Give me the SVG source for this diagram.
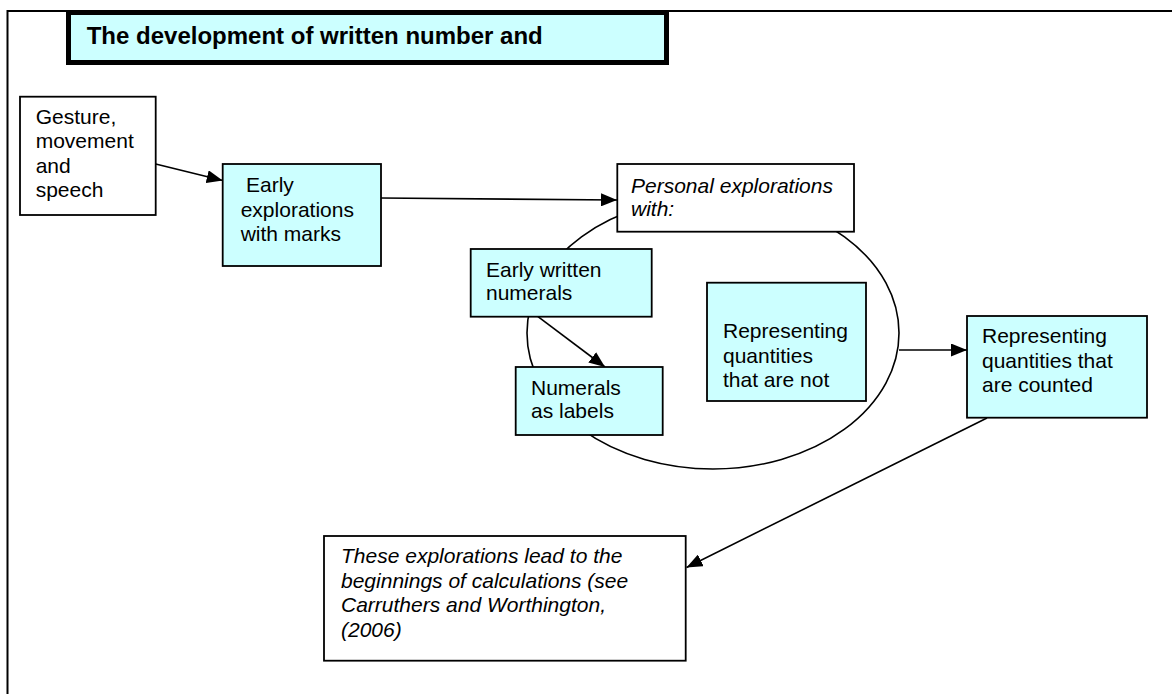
<svg xmlns="http://www.w3.org/2000/svg" width="1172" height="694" viewBox="0 0 1172 694">
<defs>
<marker id="arr" markerUnits="userSpaceOnUse" markerWidth="16" markerHeight="13" refX="16" refY="6.5" orient="auto">
<path d="M0,0 L16,6.5 L0,13 z" fill="#000"/>
</marker>
</defs>
<style>
.box{stroke:#000;stroke-width:1.8}
.cyan{fill:#CCFFFF}
.white{fill:#FFFFFF}
.t{font-family:"Liberation Sans",Arial,sans-serif;font-size:21px;fill:#000}
.i{font-style:italic}
.ln{stroke:#000;stroke-width:1.6;fill:none}
</style>
<rect width="1172" height="694" fill="#fff"/>
<g id="frame">
<path d="M7.5,694 L7.5,11 L1172,11" fill="none" stroke="#000" stroke-width="2"/>
</g>
<g id="ellipse">
<ellipse cx="713" cy="333" rx="186" ry="136" class="ln"/>
</g>
<g id="connectors">
<line x1="155.7" y1="164" x2="222.7" y2="180.5" class="ln" marker-end="url(#arr)"/>
<line x1="381" y1="198" x2="617" y2="200" class="ln" marker-end="url(#arr)"/>
<line x1="538" y1="316.7" x2="605" y2="367" class="ln" marker-end="url(#arr)"/>
<line x1="899" y1="350" x2="967" y2="350" class="ln" marker-end="url(#arr)"/>
<line x1="987" y1="418" x2="686.5" y2="567.5" class="ln" marker-end="url(#arr)"/>
</g>
<g id="title">
<rect x="68.5" y="12.5" width="598" height="50" class="cyan" stroke="#000" stroke-width="5"/>
<text x="86.7" y="44.3" class="t" style="font-size:24px;font-weight:bold">The development of written number and</text>
</g>
<g id="gesture">
<rect x="20" y="96.7" width="135.7" height="118.3" class="box white"/>
<text class="t"><tspan x="35.7" y="123.5">Gesture,</tspan><tspan x="35.7" y="148">movement</tspan><tspan x="35.7" y="172.5">and</tspan><tspan x="35.7" y="197">speech</tspan></text>
</g>
<g id="early-explorations">
<rect x="222.7" y="164" width="158.3" height="102" class="box cyan"/>
<text class="t"><tspan x="246" y="191.7">Early</tspan><tspan x="240.7" y="216.5">explorations</tspan><tspan x="240.7" y="240.7">with marks</tspan></text>
</g>
<g id="personal">
<rect x="617.3" y="164" width="236.7" height="67.7" class="box white"/>
<text class="t i"><tspan x="631" y="192.5">Personal explorations</tspan><tspan x="631" y="216">with:</tspan></text>
</g>
<g id="early-written">
<rect x="470.7" y="249" width="181" height="67.7" class="box cyan"/>
<text class="t"><tspan x="486" y="276.7">Early written</tspan><tspan x="486" y="300">numerals</tspan></text>
</g>
<g id="numerals-labels">
<rect x="515.7" y="367" width="147" height="68" class="box cyan"/>
<text class="t"><tspan x="531" y="395">Numerals</tspan><tspan x="531" y="418.3">as labels</tspan></text>
</g>
<g id="rep-not">
<rect x="707" y="282.7" width="159" height="118.3" class="box cyan"/>
<text class="t"><tspan x="723" y="338">Representing</tspan><tspan x="723" y="362.5">quantities</tspan><tspan x="723" y="387">that are not</tspan></text>
</g>
<g id="rep-counted">
<rect x="967" y="316" width="180" height="101.7" class="box cyan"/>
<text class="t"><tspan x="982" y="343">Representing</tspan><tspan x="982" y="368">quantities that</tspan><tspan x="982" y="392">are counted</tspan></text>
</g>
<g id="calculations">
<rect x="324" y="536" width="361.7" height="124.7" class="box white"/>
<text class="t i"><tspan x="341" y="563">These explorations lead to the</tspan><tspan x="341" y="588">beginnings of calculations (see</tspan><tspan x="341" y="612">Carruthers and Worthington,</tspan><tspan x="341" y="637">(2006)</tspan></text>
</g>
</svg>
